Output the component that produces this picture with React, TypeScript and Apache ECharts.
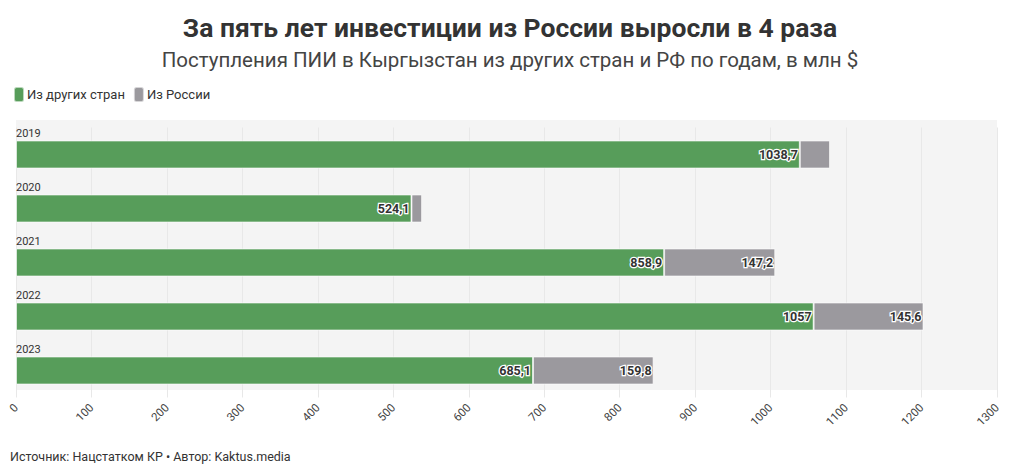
import React, { useEffect, useRef } from "react";
import * as echarts from "echarts";

const TITLE = "За пять лет инвестиции из России выросли в 4 раза";
const SUBTITLE = "Поступления ПИИ в Кыргызстан из других стран и РФ по годам, в млн $";
const SOURCE = "Источник: Нацстатком КР • Автор: Kaktus.media";
const years = ["2019", "2020", "2021", "2022", "2023"];
const otherCountries = [1038.7, 524.1, 858.9, 1057, 685.1];
const fromRussia = [40, 14, 147.2, 145.6, 159.8];
const russiaLabelShown = [false, false, true, true, true];
const seriesNames = ["Из других стран", "Из России"];
const xTicks = { min: 0, max: 1300, interval: 100 };

const FONT = "Roboto, 'Noto Sans', sans-serif";
const fmt = (v: number) => String(v).replace(".", ",");

export default function App() {
  const ref = useRef<HTMLDivElement>(null);
  useEffect(() => {
    if (!ref.current) return;
    const chart = echarts.init(ref.current, null, { renderer: "svg" });
    const labelStyle = {
      show: true,
      position: "insideRight",
      distance: 2,
      fontFamily: FONT,
      fontSize: 12.5,
      fontWeight: "bold",
      color: "#333",
      textBorderColor: "#fff",
      textBorderWidth: 2.5,
      formatter: (p: any) => fmt(p.value),
    };
    chart.setOption({
      animation: false,
      textStyle: { fontFamily: FONT },
      title: [
        {
          text: TITLE,
          left: "center",
          top: 9,
          textStyle: { fontSize: 26.5, fontWeight: "bold", color: "#333", fontFamily: FONT },
        },
        {
          text: SUBTITLE,
          left: "center",
          top: 44,
          textStyle: { fontSize: 20.5, fontWeight: "normal", color: "#444", fontFamily: FONT },
        },
      ],
      legend: {
        left: 8,
        top: 81,
        itemWidth: 10,
        itemHeight: 15,
        itemGap: 8,
        icon: "roundRect",
        textStyle: { fontSize: 13, color: "#333", fontFamily: FONT, padding: [0, 0, 0, -2] },
        data: seriesNames,
      },
      graphic: [
        {
          type: "rect",
          z: -10,
          silent: true,
          shape: { x: 16, y: 120, width: 981, height: 270 },
          style: { fill: "#f4f4f4" },
        },
        {
          type: "text",
          left: 10,
          top: 450,
          style: { text: SOURCE, fontSize: 12.5, fill: "#333", fontFamily: FONT },
        },
      ],
      grid: { left: 16, right: 23, top: 127.5, bottom: 77.5, containLabel: false },
      xAxis: {
        type: "value",
        min: xTicks.min,
        max: xTicks.max,
        interval: xTicks.interval,
        axisLine: { show: false },
        axisTick: { show: false },
        splitLine: { show: true, lineStyle: { color: "#e8e8e8", width: 1 } },
        axisLabel: {
          rotate: 45,
          margin: 8,
          fontSize: 11.5,
          color: "#444",
          fontFamily: FONT,
          formatter: (v: number) => String(v),
        },
      },
      yAxis: {
        type: "category",
        inverse: true,
        data: years,
        axisLine: { show: false },
        axisTick: { show: false },
        splitLine: { show: false },
        axisLabel: {
          inside: true,
          margin: 0,
          align: "left",
          verticalAlign: "bottom",
          padding: [0, 0, 16, 0],
          fontSize: 11,
          color: "#333",
          fontFamily: FONT,
        },
        z: 10,
      },
      series: [
        {
          name: seriesNames[0],
          type: "bar",
          stack: "total",
          barWidth: 28,
          itemStyle: { color: "#579d5a", borderColor: "rgba(255,255,255,0.6)", borderWidth: 1 },
          label: labelStyle,
          data: otherCountries,
        },
        {
          name: seriesNames[1],
          type: "bar",
          stack: "total",
          barWidth: 28,
          itemStyle: { color: "#9b999e", borderColor: "rgba(255,255,255,0.6)", borderWidth: 1 },
          label: labelStyle,
          data: fromRussia.map((v, i) => ({
            value: v,
            label: { show: russiaLabelShown[i] },
          })),
        },
      ],
    });
    return () => chart.dispose();
  }, []);
  return (
    <div
      ref={ref}
      style={{ position: "absolute", left: 0, top: 0, width: 1020, height: 475 }}
    />
  );
}
